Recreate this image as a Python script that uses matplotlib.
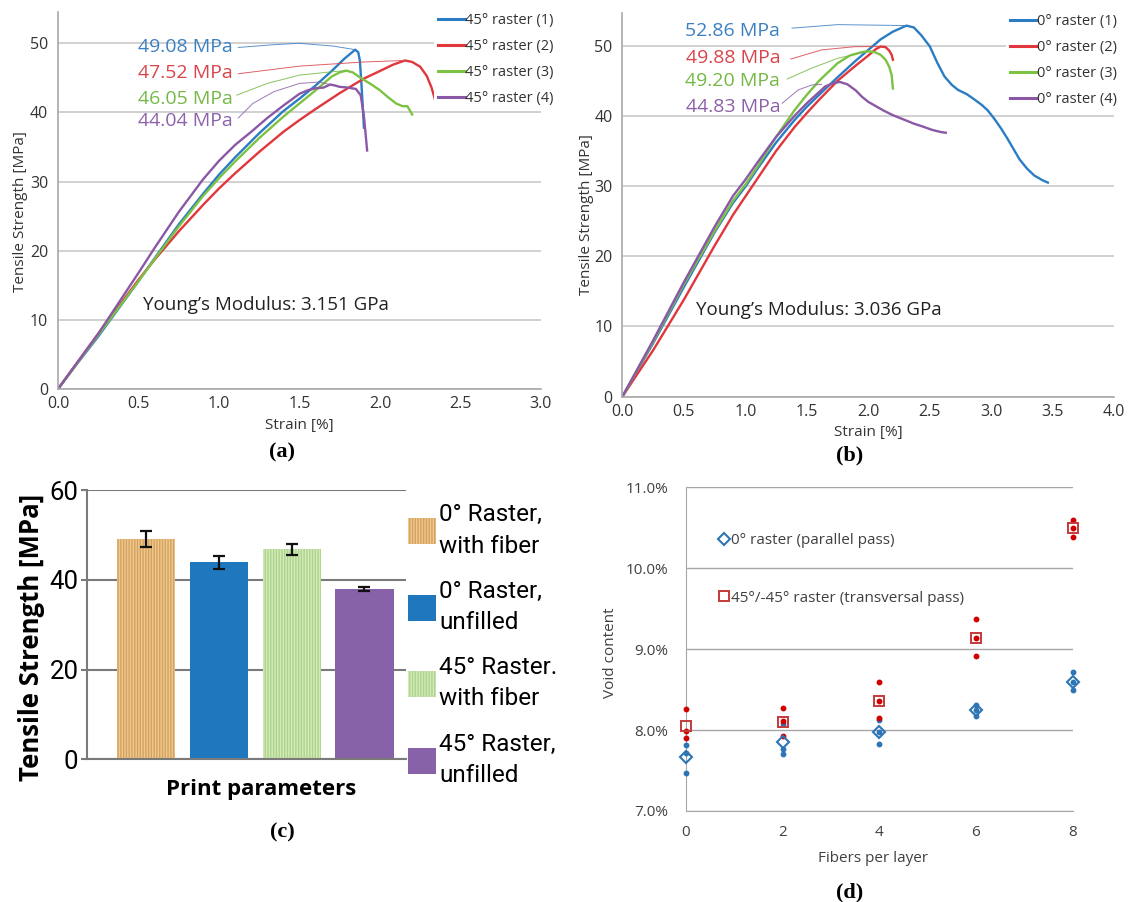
import matplotlib.pyplot as plt

W, H = 1128, 902

plt.rcParams['font.family'] = ['Open Sans', 'DejaVu Sans']
plt.rcParams['hatch.linewidth'] = 1.0

# ---------- (a) 45° raster tensile curves ----------
a_blue_x = [0, 0.1, 0.25, 0.4, 0.5, 0.6, 0.75, 0.9, 1.0, 1.1, 1.25, 1.4, 1.5, 1.6, 1.7,
            1.78, 1.846, 1.865, 1.875, 1.885, 1.895, 1.90]
a_blue_y = [0, 3.1, 7.6, 12.4, 15.6, 18.9, 23.8, 28.2, 31.0, 33.5, 37.0, 40.2, 42.0, 43.9, 46.0,
            47.8, 49.08, 48.7, 47.5, 44.0, 40.0, 37.8]
a_red_x = [0, 0.25, 0.5, 0.6, 0.75, 0.9, 1.0, 1.1, 1.25, 1.4, 1.5, 1.6, 1.75, 1.9, 2.0, 2.08,
           2.155, 2.2, 2.25, 2.29, 2.32, 2.34, 2.347]
a_red_y = [0, 8.0, 15.8, 18.7, 22.8, 26.6, 29.0, 31.2, 34.3, 37.2, 38.9, 40.5, 42.8, 44.9, 46.0, 46.9,
           47.52, 47.3, 46.6, 45.3, 43.6, 42.0, 41.1]
a_green_x = [0, 0.25, 0.5, 0.6, 0.75, 0.9, 1.0, 1.1, 1.25, 1.4, 1.5, 1.6, 1.7, 1.75, 1.79, 1.83,
             1.88, 1.95, 2.0, 2.05, 2.1, 2.14, 2.17, 2.20]
a_green_y = [0, 7.8, 15.6, 18.8, 23.5, 27.9, 30.5, 32.9, 36.3, 39.4, 41.3, 43.2, 45.2, 45.8, 46.05, 45.8,
             45.0, 44.0, 43.2, 42.2, 41.3, 40.9, 40.9, 39.7]
a_purple_x = [0, 0.25, 0.5, 0.6, 0.75, 0.9, 1.0, 1.1, 1.2, 1.3, 1.4, 1.5, 1.55, 1.6, 1.65, 1.69,
              1.72, 1.75, 1.8, 1.85, 1.88, 1.9, 1.92]
a_purple_y = [0, 8.0, 16.8, 20.4, 25.6, 30.3, 33.0, 35.3, 37.2, 39.2, 41.0, 42.7, 43.2, 43.5, 43.6, 44.04,
              43.9, 43.7, 43.6, 43.4, 42.5, 39.5, 34.5]
a_names = ['45° raster (1)', '45° raster (2)', '45° raster (3)', '45° raster (4)']
a_label_y = [49.5, 45.65, 42.0, 38.7]
a_lead_x = [[1.12, 1.34, 1.5, 1.71, 1.846],
            [1.12, 1.5, 1.9, 2.155],
            [1.11, 1.30, 1.5, 1.71, 1.79],
            [1.12, 1.21, 1.34, 1.5, 1.62, 1.69]]
a_lead_y = [[49.4, 49.8, 50.0, 49.6, 49.08],
            [45.6, 46.7, 47.3, 47.52],
            [42.5, 44.2, 45.4, 45.9, 46.05],
            [39.2, 41.3, 43.0, 44.2, 44.4, 44.04]]

# ---------- (b) 0° raster tensile curves ----------
b_blue_x = [0, 0.25, 0.5, 0.75, 0.9, 1.0, 1.1, 1.25, 1.4, 1.5, 1.6, 1.75, 1.9, 2.0, 2.1, 2.2,
            2.31, 2.37, 2.43, 2.5, 2.56, 2.62, 2.68, 2.73, 2.8, 2.85, 2.92, 2.97, 3.02, 3.08,
            3.13, 3.17, 3.23, 3.29, 3.35, 3.42, 3.46]
b_blue_y = [0, 7.6, 15.6, 23.4, 27.6, 29.9, 32.5, 36.2, 39.4, 41.3, 43.0, 45.5, 47.9, 49.4, 50.9, 52.0,
            52.86, 52.6, 51.5, 49.9, 47.6, 45.6, 44.4, 43.7, 43.1, 42.5, 41.6, 40.8, 39.7, 38.2,
            36.8, 35.6, 33.8, 32.5, 31.5, 30.8, 30.5]
b_red_x = [0, 0.25, 0.5, 0.75, 0.9, 1.0, 1.1, 1.25, 1.4, 1.5, 1.6, 1.75, 1.9, 2.0, 2.06, 2.1,
           2.14, 2.17, 2.19, 2.2]
b_red_y = [0, 6.6, 13.8, 21.5, 25.9, 28.5, 31.1, 35.0, 38.4, 40.4, 42.3, 45.0, 47.2, 48.6, 49.5, 49.88,
           49.8, 49.3, 48.7, 48.0]
b_green_x = [0, 0.25, 0.5, 0.75, 0.9, 1.0, 1.1, 1.25, 1.4, 1.5, 1.6, 1.75, 1.85, 1.95, 2.0, 2.05,
             2.1, 2.14, 2.17, 2.19, 2.2]
b_green_y = [0, 7.8, 16.0, 23.6, 27.9, 30.2, 32.8, 37.0, 40.8, 43.0, 45.0, 47.5, 48.6, 49.1, 49.2, 49.1,
             48.7, 48.0, 47.0, 45.8, 43.9]
b_purple_x = [0, 0.25, 0.5, 0.75, 0.9, 1.0, 1.1, 1.25, 1.4, 1.5, 1.6, 1.65, 1.72, 1.77, 1.83, 1.9,
              1.95, 2.0, 2.06, 2.12, 2.2, 2.3, 2.37, 2.44, 2.52, 2.59, 2.63]
b_purple_y = [0, 8.0, 16.3, 24.2, 28.6, 30.9, 33.4, 37.0, 40.0, 41.8, 43.4, 44.2, 44.7, 44.83, 44.5, 43.6,
              42.7, 42.0, 41.4, 40.8, 40.1, 39.4, 38.9, 38.5, 38.0, 37.7, 37.6]
b_names = ['0° raster (1)', '0° raster (2)', '0° raster (3)', '0° raster (4)']
b_label_y = [52.1, 48.3, 44.9, 41.3]
b_lead_x = [[1.38, 1.75, 2.18, 2.31],
            [1.37, 1.62, 1.89, 2.10],
            [1.34, 1.54, 1.75, 2.0],
            [1.30, 1.43, 1.54, 1.62]]
b_lead_y = [[52.5, 53.0, 52.9, 52.86],
            [48.1, 49.4, 49.86, 49.88],
            [45.25, 46.8, 48.2, 49.2],
            [41.8, 43.7, 44.4, 44.5]]

# ---------- (c) mean tensile strength ----------
c_names = ['0° Raster,\nwith fiber', '0° Raster,\nunfilled',
           '45° Raster.\nwith fiber', '45° Raster,\nunfilled']
c_values = [49.1, 43.9, 46.8, 37.9]
c_errors = [1.8, 1.4, 1.2, 0.45]

# ---------- (d) void content ----------
fibers = [0, 2, 4, 6, 8]
void_0_mean = [7.67, 7.85, 7.98, 8.25, 8.60]
void_0_runs = [[7.81, 7.72, 7.47], [8.07, 7.76, 7.70], [8.13, 7.98, 7.83],
               [8.31, 8.25, 8.18], [8.72, 8.60, 8.50]]
void_45_mean = [8.05, 8.10, 8.36, 9.14, 10.50]
void_45_runs = [[8.26, 7.99, 7.90], [8.27, 8.11, 7.93], [8.59, 8.36, 8.15],
                [9.37, 9.14, 8.91], [10.60, 10.50, 10.38]]

curve_colors = ['#2a7dc4', '#e0363c', '#7cc243', '#8a58a6']
text_colors = ['#3d80c2', '#d8454b', '#74b945', '#8d62a9']


def box(x0, y0, x1, y1):
    return [x0 / W, 1 - y1 / H, (x1 - x0) / W, (y1 - y0) / H]


def to_axes(ax, px, py):
    return ax.transAxes.inverted().transform(fig.transFigure.transform((px / W, 1 - py / H)))


def place_label(ax, which, px, py):
    x, y = to_axes(ax, px, py)
    if which == 'x':
        ax.xaxis.set_label_coords(x, y)
    else:
        ax.yaxis.set_label_coords(x, y)


def tensile(ax, xs, ys, names, label_x, label_y, lead_x, lead_y, modulus, mod_xy, xmax, ymax, leg_xy):
    ax.set_xlim(0, xmax)
    ax.set_ylim(0, ymax)
    ax.set_yticks(range(0, 51, 10))
    ax.set_xticks([i * 0.5 for i in range(int(xmax * 2) + 1)])
    ax.xaxis.set_major_formatter('{x:.1f}')
    ax.grid(axis='y', color='#c9c9c9', lw=1.2)
    ax.set_axisbelow(True)
    for s in ['top', 'right']:
        ax.spines[s].set_visible(False)
    for s in ['left', 'bottom']:
        ax.spines[s].set_color('#a8a8a8')
        ax.spines[s].set_linewidth(1.2)
    ax.tick_params(length=0, labelsize=11.5, colors='#333333')
    ax.tick_params(axis='y', pad=7)
    ax.tick_params(axis='x', pad=5)
    handles = []
    for x, y, c, tc, n, ly, lx, lyy in zip(xs, ys, curve_colors, text_colors, names,
                                           label_y, lead_x, lead_y):
        h, = ax.plot(x, y, color=c, lw=1.7, solid_joinstyle='round')
        handles.append(h)
        ax.plot(lx, lyy, color=tc, lw=0.7, alpha=0.85)
        ax.text(label_x, ly, f'{max(y):.2f} MPa', color=tc, fontsize=14,
                ha='right', va='center')
    ax.text(mod_xy[0], mod_xy[1], f'Young’s Modulus: {modulus} GPa', fontsize=13.5,
            color='#222222', va='center')
    ax.set_xlabel('Strain [%]', fontsize=11, color='#333333', va='center')
    ax.set_ylabel('Tensile Strength [MPa]', fontsize=11, color='#333333', va='center')
    leg = ax.legend(handles, names, loc='upper left',
                    bbox_to_anchor=(leg_xy[0] / W, 1 - leg_xy[1] / H),
                    bbox_transform=fig.transFigure, fontsize=10.5, handlelength=1.8,
                    handletextpad=0.05, labelspacing=0.75, borderpad=0.3,
                    borderaxespad=0, frameon=True, fancybox=False, framealpha=1)
    leg.get_frame().set_linewidth(0)
    for t in leg.get_texts():
        t.set_color('#333333')
    for line in leg.get_lines():
        line.set_linewidth(2.2)


fig = plt.figure(figsize=(W / 100, H / 100), dpi=100)

# (a)
ax_a = fig.add_axes(box(58, 12.2, 541, 389))
tensile(ax_a, [a_blue_x, a_red_x, a_green_x, a_purple_x],
        [a_blue_y, a_red_y, a_green_y, a_purple_y], a_names, 1.085, a_label_y,
        a_lead_x, a_lead_y, '3.151', (0.527, 12.1), 3.0, 54.5, (434, 9))
place_label(ax_a, 'x', 299, 425)
place_label(ax_a, 'y', 21, 212)

# (b)
ax_b = fig.add_axes(box(622.3, 12.7, 1114.3, 396.7))
tensile(ax_b, [b_blue_x, b_red_x, b_green_x, b_purple_x],
        [b_blue_y, b_red_y, b_green_y, b_purple_y], b_names, 1.285, b_label_y,
        b_lead_x, b_lead_y, '3.036', (0.596, 12.35), 4.0, 54.7, (1006, 10))
place_label(ax_b, 'x', 868, 432)
place_label(ax_b, 'y', 587, 215)

# (c)
narrow = ['Roboto', 'DejaVu Sans']
ax_c = fig.add_axes(box(86.8, 490, 406, 759.3))
faces = ['#efc98e', '#1f78be', '#d3eabd', '#8862a8']
stripes = ['#d4a260', '#1f78be', '#aed48a', '#8862a8']
hatches = ['||||||', '', '||||||', '']
bars = ax_c.bar(range(4), c_values, width=0.8, yerr=c_errors, color=faces,
                edgecolor=stripes, linewidth=0, capsize=4,
                error_kw=dict(elinewidth=1.6, capthick=1.6, ecolor='#111111'))
for b, hch in zip(bars, hatches):
    b.set_hatch(hch)
ax_c.set_xlim(-0.813, 3.57)
ax_c.set_ylim(0, 60)
ax_c.set_yticks([0, 20, 40, 60])
ax_c.set_xticks([])
ax_c.grid(axis='y', color='#7a7a7a', lw=1.5)
ax_c.set_axisbelow(True)
for s in ['top', 'right']:
    ax_c.spines[s].set_visible(False)
for s in ['left', 'bottom']:
    ax_c.spines[s].set_color('#7a7a7a')
    ax_c.spines[s].set_linewidth(1.5)
ax_c.tick_params(axis='y', length=4, width=1.5, color='#7a7a7a', pad=2, labelsize=18.5)
for t in ax_c.get_yticklabels():
    t.set_family(narrow)
ax_c.set_ylabel('Tensile Strength [MPa]', fontsize=18.5, fontweight='bold', va='center')
ax_c.set_xlabel('Print parameters', fontsize=16, fontweight='bold', va='center')
place_label(ax_c, 'x', 261, 790)
place_label(ax_c, 'y', 32, 637)
leg_c = ax_c.legend(bars, c_names, loc='upper left', bbox_to_anchor=(406 / W, 1 - 501 / H),
                    bbox_transform=fig.transFigure, prop={'family': narrow, 'size': 17.5},
                    handlelength=1.15, handleheight=1.25, handletextpad=0.12, labelspacing=0.92,
                    borderpad=0.1, borderaxespad=0, frameon=False)
for t in leg_c.get_texts():
    t.set_linespacing(1.45)

# (d)
ax_d = fig.add_axes(box(686, 487.3, 1072.6, 811))
blue_d, red_d = '#2e75b6', '#c43a3a'
for x, runs in zip(fibers, void_0_runs):
    ax_d.plot([x] * len(runs), runs, 'o', ms=3.2, color=blue_d, clip_on=False, zorder=3)
for x, runs in zip(fibers, void_45_runs):
    ax_d.plot([x] * len(runs), runs, 'o', ms=3.2, color='#d00000', clip_on=False, zorder=3)
m0, = ax_d.plot(fibers, void_0_mean, 'D', ms=6.5, mfc='none', mec=blue_d, mew=1.5,
                ls='none', clip_on=False, zorder=4)
m45, = ax_d.plot(fibers, void_45_mean, 's', ms=7.5, mfc='none', mec=red_d, mew=1.4,
                 ls='none', clip_on=False, zorder=4)
ax_d.set_xlim(0, 8)
ax_d.set_ylim(7, 11)
ax_d.set_xticks(fibers)
ax_d.set_yticks([7, 8, 9, 10, 11])
ax_d.yaxis.set_major_formatter('{x:.1f}%')
ax_d.grid(axis='y', color='#a6a6a6', lw=1.0)
ax_d.set_axisbelow(True)
for s in ['top', 'right']:
    ax_d.spines[s].set_visible(False)
for s in ['left', 'bottom']:
    ax_d.spines[s].set_color('#a6a6a6')
ax_d.tick_params(length=0, labelsize=11, colors='#404040')
ax_d.tick_params(axis='y', pad=13)
ax_d.tick_params(axis='x', pad=10)
ax_d.set_xlabel('Fibers per layer', fontsize=11, color='#404040', va='center')
ax_d.set_ylabel('Void content', fontsize=11, color='#404040', va='center')
place_label(ax_d, 'x', 873, 858)
place_label(ax_d, 'y', 611, 653)
ax_d.legend([m0, m45], ['0° raster (parallel pass)', '45°/-45° raster (transversal pass)'],
            loc='upper left', bbox_to_anchor=(719 / W, 1 - 533 / H),
            bbox_transform=fig.transFigure, fontsize=11, numpoints=1, handlelength=0.6,
            handletextpad=0.2, labelspacing=2.8, borderpad=0, borderaxespad=0,
            frameon=False, labelcolor='#404040')

# panel captions
for letter, px, py in [('a', 282, 452), ('b', 850, 455), ('c', 282, 832), ('d', 850, 892)]:
    fig.text(px / W, 1 - py / H, f'({letter})', fontsize=16, fontweight='bold',
             family='Liberation Serif', ha='center', va='center')

fig.savefig('out.png', dpi=100)
